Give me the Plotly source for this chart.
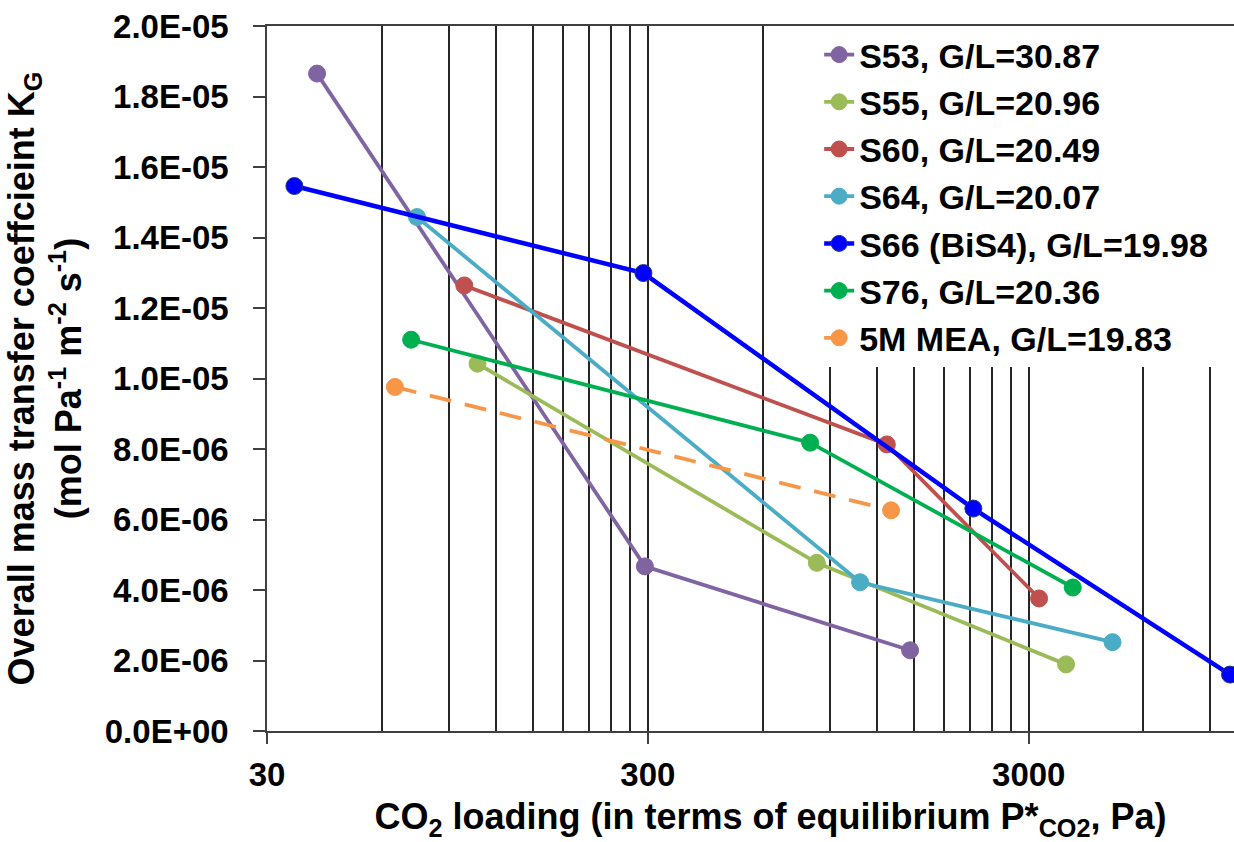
import numpy as np
import plotly.graph_objects as go

# ---------------- data ----------------
series_names = [
    "S53, G/L=30.87",
    "S55, G/L=20.96",
    "S60, G/L=20.49",
    "S64, G/L=20.07",
    "S66 (BiS4), G/L=19.98",
    "S76, G/L=20.36",
    "5M MEA, G/L=19.83",
]
s53_x = [40.6, 294.6, 1464]
s53_y = [1.865e-5, 4.67e-6, 2.29e-6]
s55_x = [107.1, 833, 3759]
s55_y = [1.042e-5, 4.77e-6, 1.89e-6]
s60_x = [98.9, 1272, 3193]
s60_y = [1.264e-5, 8.13e-6, 3.76e-6]
s64_x = [74.3, 1082, 4977]
s64_y = [1.458e-5, 4.22e-6, 2.52e-6]
s66_x = [35.4, 292, 2146, 10128]
s66_y = [1.546e-5, 1.299e-5, 6.31e-6, 1.60e-6]
s76_x = [71.7, 800, 3915]
s76_y = [1.110e-5, 8.18e-6, 4.07e-6]
mea_x = [65.0, 1305]
mea_y = [9.76e-6, 6.26e-6]

x_major_ticks = [30, 300, 3000]
x_major_labels = ["30", "300", "3000"]
x_minor_ticks = [30 * k for k in range(2, 10)] + [300 * k for k in range(2, 10)] + [3000 * k for k in range(2, 10)]
y_ticks = [i * 2e-6 for i in range(11)]
y_tick_labels = [f"{v:.1E}" for v in y_ticks]

colors = ["#8064A2", "#9BBB59", "#C0504D", "#4BACC6", "#0000FF", "#00B050", "#F79646"]
outline = ["#8064A2", "#9BBB59", "#C0504D", "#4BACC6", "#1F3A7A", "#00B050", "#F79646"]
xs = [s53_x, s55_x, s60_x, s64_x, s66_x, s76_x, mea_x]
ys = [s53_y, s55_y, s60_y, s64_y, s66_y, s76_y, mea_y]
widths = [3.8, 3.8, 3.8, 3.8, 4.5, 3.8, 3.8]
dashes = ["solid"] * 6 + ["22px,14px"]

FONT = "Liberation Sans, Arial, sans-serif"
GRID = "#262626"
AXIS = "#404040"

fig = go.Figure()
for name, x, y, c, oc, w, d in zip(series_names, xs, ys, colors, outline, widths, dashes):
    fig.add_trace(go.Scatter(
        x=x, y=y, name=name, mode="lines+markers",
        line=dict(color=c, width=w, dash=d),
        marker=dict(color=c, size=17, line=dict(color=oc, width=1)),
        cliponaxis=False,
    ))

fig.update_layout(
    width=1234, height=842,
    margin=dict(l=267, r=0, t=26, b=111),
    paper_bgcolor="white", plot_bgcolor="white",
    font=dict(family=FONT, size=33, color="black", weight="bold"),
    showlegend=True,
    legend=dict(
        x=0.571, y=1.0, xanchor="left", yanchor="top",
        bgcolor="white", borderwidth=0,
        font=dict(family=FONT, size=34, color="black", weight="bold"),
        tracegroupgap=0, itemsizing="trace",
    ),
)

fig.update_xaxes(
    type="log",
    range=[np.log10(30), np.log10(30) + 967.3 / 381.0],
    tickmode="array", tickvals=x_major_ticks, ticktext=x_major_labels,
    ticks="outside", ticklen=11, tickwidth=1.5, tickcolor=AXIS,
    showline=True, linecolor=AXIS, linewidth=1.5, mirror=True,
    showgrid=True, gridcolor=GRID, gridwidth=1.6,
    minor=dict(tickmode="array", tickvals=x_minor_ticks, ticks="",
               showgrid=True, gridcolor=GRID, gridwidth=1.6),
    zeroline=False,
    ticklabelstandoff=3,
    title=dict(text="&nbsp;&nbsp;&nbsp;&nbsp;CO<sub>2</sub> loading (in terms of equilibrium P*<sub>CO2</sub>, Pa)",
               font=dict(family=FONT, size=36, color="black", weight="bold"),
               standoff=26),
    automargin=False,
)

fig.update_yaxes(
    range=[0, 2e-5],
    tickmode="array", tickvals=y_ticks, ticktext=y_tick_labels,
    ticks="outside", ticklen=12, tickwidth=1.5, tickcolor=AXIS,
    showline=True, linecolor=AXIS, linewidth=1.5,
    showgrid=False, zeroline=False,
    ticklabelstandoff=18,
    title=dict(text="Overall mass transfer coeffcieint K<sub>G</sub><br>(mol Pa<sup>-1</sup> m<sup>-2</sup> s<sup>-1</sup>)",
               font=dict(family=FONT, size=36, color="black", weight="bold"),
               standoff=12),
    automargin=False,
)

fig.write_html("out.html")
